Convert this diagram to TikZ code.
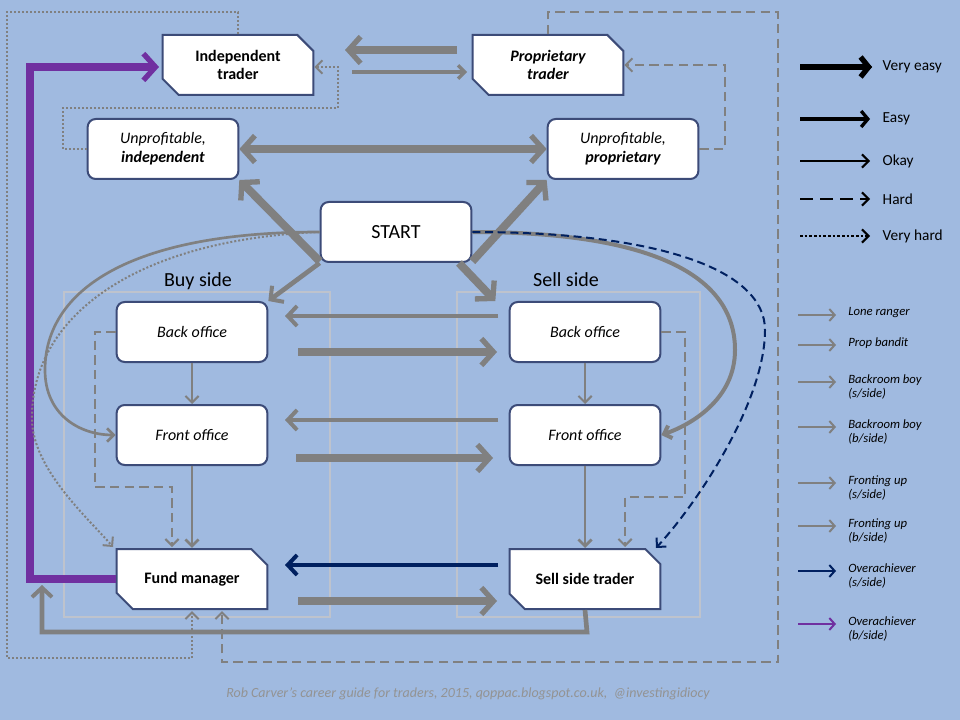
\documentclass[tikz,border=0pt]{standalone}
\usepackage{fontspec}
\setmainfont{Carlito}
\usetikzlibrary{arrows.meta,shapes.misc}
\definecolor{bg}{RGB}{160,186,224}
\definecolor{gr}{RGB}{128,128,128}
\definecolor{edge}{RGB}{60,75,120}
\definecolor{navy}{RGB}{0,32,96}
\definecolor{purp}{RGB}{112,48,160}
\definecolor{boxl}{RGB}{190,195,205}
\begin{document}
\begin{tikzpicture}[x=0.75pt,y=-0.75pt,
 box/.style={draw=edge,line width=1.5pt,fill=white,rounded corners=6pt,minimum width=113pt,minimum height=45pt,align=center,font=\fontsize{12}{14}\selectfont,inner sep=1pt},
 snip/.style={draw=edge,line width=1.5pt,fill=white,chamfered rectangle,chamfered rectangle corners={north east,south west},chamfered rectangle xsep=6pt,chamfered rectangle ysep=6pt,minimum width=113pt,minimum height=45pt,align=center,font=\bfseries\fontsize{12}{14}\selectfont,inner sep=1pt},
 tip/.style={-{Straight Barb[length=3.5pt,width=7pt]}},
 thk/.style={gr,line width=6pt,-{Straight Barb[length=9pt,width=20pt,line width=4pt]}},
 med/.style={gr,line width=3.5pt,-{Straight Barb[length=7pt,width=15pt,line width=3pt]}},
 thn/.style={gr,line width=1.5pt,-{Straight Barb[length=5pt,width=10pt]}},
 dsh/.style={thn,dash pattern=on 7pt off 4pt},
 dot/.style={thn,dash pattern=on 1.5pt off 1.5pt},
 lg/.style={font=\fontsize{11.5}{13}\selectfont,anchor=west},
 ls/.style={font=\itshape\fontsize{9.5}{11}\selectfont,anchor=north west,align=left,inner sep=0pt},
 la/.style={gr,line width=1.5pt,-{Straight Barb[length=4pt,width=9pt]}}]
\fill[bg] (0,0) rectangle (960,720);
\useasboundingbox (0,0) rectangle (960,720);
% side boxes
\draw[boxl,line width=1.2pt] (64,292) rectangle (330,617);
\draw[boxl,line width=1.2pt] (457,292) rectangle (700,617);
\node[font=\fontsize{15}{17}\selectfont] (bs) at (198,281) {Buy side};
\node[font=\fontsize{15}{17}\selectfont] (ss) at (566,280) {Sell side};
% nodes
\node[snip] (it) at (238,65) {Independent\\trader};
\node[snip,font=\bfseries\itshape\fontsize{12}{14}\selectfont] (pt) at (548,65) {Proprietary\\trader};
\node[box] (ui) at (163,149) {\itshape Unprofitable,\\\bfseries\itshape independent};
\node[box] (up) at (623,149) {\itshape Unprofitable,\\\bfseries\itshape proprietary};
\node[box,font=\fontsize{15}{17}\selectfont] (st) at (396,232) {START};
\node[box,font=\itshape\fontsize{12}{14}\selectfont] (bbo) at (192,332) {Back office};
\node[box,font=\itshape\fontsize{12}{14}\selectfont] (sbo) at (585,332) {Back office};
\node[box,font=\itshape\fontsize{12}{14}\selectfont] (bfo) at (192,435) {Front office};
\node[box,font=\itshape\fontsize{12}{14}\selectfont] (sfo) at (585,435) {Front office};
\node[snip] (fm) at (192,579) {Fund manager};
\node[snip] (sst) at (585,579) {Sell side trader};
% horizontal arrows
\coordinate (a1) at (457,50); \coordinate (a2) at (345,50);
\draw[thk] (a1) -- (a2);
\coordinate (a3) at (352,72); \coordinate (a4) at (467,72);
\draw[thn,line width=2.5pt] (a3) -- (a4);
\draw[gr,line width=6pt,{Straight Barb[length=9pt,width=20pt,line width=4pt]}-{Straight Barb[length=9pt,width=20pt,line width=4pt]}] (ui.east) -- (up.west);
\draw[thk] (st.west)+(0,-22pt) coordinate (s1) (s1) -- (ui.south east);
\draw[thk] (st.east)+(0,-22pt) coordinate (s2) (s2) -- (up.south west);
\draw[med] (st.south west) -- (bbo.north east);
\draw[thk] (st.south east)+(-10pt,0) coordinate (s3) (s3) -- ([xshift=-10pt]sbo.north west);
\coordinate (b1) at (498,316); \coordinate (b2) at (285,316);
\draw[med] (b1) -- (b2);
\coordinate (b3) at (298,352); \coordinate (b4) at (497,352);
\draw[thk] (b3) -- (b4);
\coordinate (c1) at (498,420); \coordinate (c2) at (285,420);
\draw[med] (c1) -- (c2);
\coordinate (c3) at (296,458); \coordinate (c4) at (493,458);
\draw[thk] (c3) -- (c4);
\coordinate (d1) at (498,565); \coordinate (d2) at (285,565);
\draw[navy,line width=3.5pt,-{Straight Barb[length=7pt,width=15pt,line width=3pt]}] (d1) -- (d2);
\coordinate (d3) at (298,601); \coordinate (d4) at (497,601);
\draw[thk] (d3) -- (d4);
% verticals
\draw[thn] (bbo) -- (bfo);
\draw[thn,line width=2pt] (bfo) -- (fm);
\draw[thn] (sbo) -- (sfo);
\draw[thn,line width=2pt] (sfo) -- (sst);
% purple
\draw[purp,line width=6pt,-{Straight Barb[length=9pt,width=20pt,line width=4pt]}] (fm.west) -- (30,579) -- (30,67) -- ([xshift=-2pt]it.west |- 0,67);
% bottom gray loop
\draw[med] (sst.south) -- (587,632) -- (42,632) -- (42,585);
% dashed inside boxes
\draw[dsh] (bbo.west) -- (95,332) -- (95,487) -- (172,487) -- (172,547);
\draw[dsh] (sbo.east) -- (685,332) -- (685,497) -- (625,497) -- (625,547);
% dashed outer
\draw[dsh] (up.east) -- (725,149) -- (725,65) -- (pt.east);
\draw[dsh] (pt.north) -- (548,12) -- (778,12) -- (778,662) -- (222,662) -- (222,611);
% dotted outer
\draw[dot] (it.north) -- (238,12) -- (7,12) -- (7,658) -- (192,658) -- (192,611);
\draw[dot] (ui.west) -- (63,149) -- (63,108) -- (338,108) -- (338,67) -- (it.east |- 0,67);
% curves left
\draw[thn,line width=2pt] (st.west) .. controls (130,232) and (45,290) .. (45,370) .. controls (45,415) and (80,435) .. (bfo.west);
\draw[dot] (st.west) .. controls (130,240) and (30,320) .. (32,420) .. controls (33,470) and (90,520) .. (113,547);
% curves right
\draw[thn,line width=3pt] (st.east) .. controls (640,232) and (735,270) .. (735,350) .. controls (735,400) and (690,425) .. (sfo.east);
\draw[navy,line width=1.5pt,dash pattern=on 6pt off 3.5pt,-{Straight Barb[length=5pt,width=10pt]}] (st.east) .. controls (660,232) and (765,270) .. (765,330) .. controls (765,400) and (700,500) .. (656,548);
% legend 1
\coordinate (l1a) at (800,67); \coordinate (l1b) at (872,67);
\draw[line width=5pt,-{Triangle Cap[]}] (l1a) -- (l1b);
\draw[line width=5pt,-{Straight Barb[length=6pt,width=15pt,line width=4pt]}] (l1a) -- (l1b);
\node[lg] at (878,67) {Very easy};
\coordinate (l2a) at (800,119); \coordinate (l2b) at (870,119);
\draw[line width=3pt,-{Straight Barb[length=5pt,width=12pt,line width=2.5pt]}] (l2a) -- (l2b);
\node[lg] at (878,119) {Easy};
\coordinate (l3a) at (800,161); \coordinate (l3b) at (870,161);
\draw[line width=1.5pt,-{Straight Barb[length=5pt,width=10pt]}] (l3a) -- (l3b);
\node[lg] at (878,161) {Okay};
\coordinate (l4a) at (800,199); \coordinate (l4b) at (870,199);
\draw[line width=1.5pt,dash pattern=on 10pt off 5pt,-{Straight Barb[length=5pt,width=10pt]}] (l4a) -- (l4b);
\node[lg] at (878,199) {Hard};
\coordinate (l5a) at (800,236); \coordinate (l5b) at (870,236);
\draw[line width=1.5pt,dash pattern=on 2pt off 1.5pt,-{Straight Barb[length=5pt,width=10pt]}] (l5a) -- (l5b);
\node[lg] at (878,236) {Very hard};
% legend 2
\foreach \y/\t/\c in {315/Lone ranger/gr,345/Prop bandit/gr,382/{Backroom boy\\(s/side)}/gr,427/{Backroom boy\\(b/side)}/gr,483/{Fronting up\\(s/side)}/gr,526/{Fronting up\\(b/side)}/gr,571/{Overachiever\\(s/side)}/navy,624/{Overachiever\\(b/side)}/purp}{
 \draw[la,\c] (798,\y) -- (836,\y);
 \node[ls] at (848,\y-8) {\t};
}
\node[font=\itshape\fontsize{10.5}{12}\selectfont,text=gr!85!white] (ft) at (468,694) {Rob Carver’s career guide for traders, 2015, qoppac.blogspot.co.uk,\ \ @investingidiocy};
\end{tikzpicture}
\end{document}
